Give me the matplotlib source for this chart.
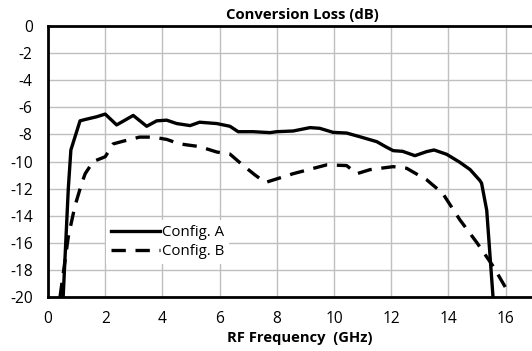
import matplotlib
matplotlib.use("Agg")
import matplotlib.pyplot as plt

plt.rcParams['font.family'] = ['Open Sans', 'DejaVu Sans']

# Config. A (solid)
freq_a = [0.53, 0.71, 0.80, 1.12, 1.3, 1.7, 2.0, 2.4, 2.98, 3.45, 3.8, 4.15, 4.5, 4.97, 5.3,
          5.9, 6.36, 6.65, 7.17, 7.76, 8.0, 8.57, 9.16, 9.5, 9.97, 10.44, 10.9, 11.5, 11.8,
          12.07, 12.4, 12.83, 13.24, 13.5, 13.94, 14.4, 14.76, 15.1, 15.16, 15.34, 15.45, 15.56]
loss_a = [-20, -12, -9.15, -7.0, -6.9, -6.7, -6.5, -7.3, -6.6, -7.4, -7.0, -6.95, -7.2, -7.35, -7.1,
          -7.2, -7.4, -7.8, -7.8, -7.87, -7.8, -7.75, -7.5, -7.55, -7.85, -7.9, -8.17, -8.54, -8.9,
          -9.2, -9.25, -9.57, -9.27, -9.15, -9.47, -10.06, -10.6, -11.4, -11.6, -13.6, -16.8, -20]

# Config. B (dashed)
freq_b = [0.42, 0.71, 0.94, 1.18, 1.3, 1.58, 2.0, 2.28, 2.63, 3.2, 3.68, 4.15, 4.6, 5.3, 5.9,
          6.36, 6.8, 7.24, 7.6, 8.57, 9.74, 10.44, 10.8, 11.26, 12.07, 12.54, 13.24, 13.8,
          14.4, 15.0, 15.57, 16.15]
loss_b = [-20, -15.55, -13.3, -11.6, -10.9, -10.0, -9.65, -8.7, -8.5, -8.2, -8.2, -8.37, -8.7, -8.9, -9.3,
          -9.45, -10.25, -11.0, -11.55, -10.9, -10.25, -10.3, -10.9, -10.6, -10.38, -10.5, -11.35, -12.35,
          -14.3, -16.0, -17.75, -19.85]

xticks = [0, 2, 4, 6, 8, 10, 12, 14, 16]
yticks = [0, -2, -4, -6, -8, -10, -12, -14, -16, -18, -20]

fig = plt.figure(figsize=(5.32, 3.51), dpi=100)
ax = fig.add_axes([48/532, 1-297/351, 1-48/532, (297-26)/351])

ax.plot(freq_a, loss_a, color='black', lw=2.4, solid_joinstyle='round', label='Config. A', zorder=3)
ax.plot(freq_b, loss_b, color='black', lw=2.4, dashes=(4.3, 2.9), label='Config. B', zorder=3)

ax.set_xlim(0, (532-48)/28.6)
ax.set_ylim(-20, 0)
ax.set_xticks(xticks)
ax.set_yticks(yticks)
ax.set_yticklabels([str(v) for v in yticks])
ax.grid(True, color='#bfbfbf', lw=1.0)
ax.set_axisbelow(True)
ax.tick_params(length=0, labelsize=11.2)
ax.tick_params(axis='y', pad=11)
ax.tick_params(axis='x', pad=10)
for s in ['left', 'bottom', 'top']:
    ax.spines[s].set_linewidth(2)
    ax.spines[s].set_color('black')
ax.spines['right'].set_visible(False)

leg = ax.legend(loc='upper left', bbox_to_anchor=(0.105, 0.31), frameon=True, fontsize=10.8,
                handlelength=3.3, handletextpad=0.1, borderpad=0.3, labelspacing=0.28)
leg.get_frame().set_edgecolor('none')
leg.get_frame().set_facecolor('white')
leg.get_frame().set_alpha(1)
leg.get_frame().set_boxstyle('square', pad=0)

fig.text(302/532, 1-15/351, 'Conversion Loss (dB)', ha='center', va='center', fontsize=10.7, fontweight='bold')
fig.text(300/532, 1-338/351, 'RF Frequency  (GHz)', ha='center', va='center', fontsize=10.6, fontweight='bold')

fig.savefig('out.png', dpi=100)
